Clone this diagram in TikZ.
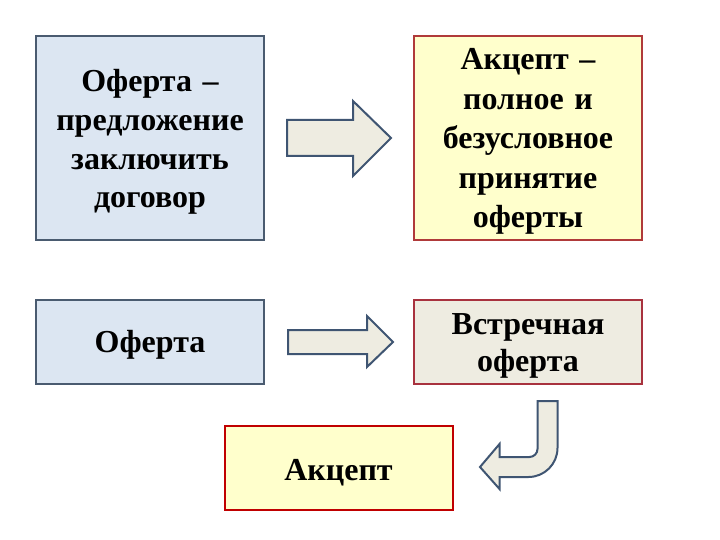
\documentclass[tikz,border=0pt]{standalone}
\usepackage{fontspec}
\setmainfont{Liberation Serif}
\definecolor{bluefill}{HTML}{DCE6F2}
\definecolor{blueline}{HTML}{4A5B70}
\definecolor{yelfill}{HTML}{FFFFCC}
\definecolor{redline}{HTML}{B03A3A}
\definecolor{greyfill}{HTML}{EEECE1}
\definecolor{winered}{HTML}{A8323E}
\definecolor{brightred}{HTML}{C00000}
\definecolor{arrline}{HTML}{3F5572}
\begin{document}
\begin{tikzpicture}[x=1pt,y=-1pt,
  box/.style={draw, line width=2pt, minimum width=228pt, inner sep=0pt},
  txt/.style={inner sep=0pt, text width=226pt, align=center},
  blockarrow/.style={draw=arrline, fill=greyfill, line width=2pt, line join=miter}]
\useasboundingbox (0,0) rectangle (720,540);
\fill[white] (0,0) rectangle (720,540);
\node[box, draw=blueline, fill=bluefill, minimum height=204pt] (b1) at (150,138) {};
\node[txt, font=\bfseries\fontsize{32}{38.7}\selectfont] (t1) at ([yshift=-4pt]b1.center)
  {Оферта –\\предложение\\заключить\\договор};
\node[box, draw=redline, fill=yelfill, minimum height=204pt] (b2) at (528,138) {};
\node[txt, font=\bfseries\fontsize{32}{39.5}\selectfont] (t2) at ([yshift=-3.5pt]b2.center)
  {Акцепт –\\полное и\\безусловное\\принятие\\оферты};
\node[box, draw=blueline, fill=bluefill, minimum height=84pt] (b3) at (150,341.5) {};
\node[txt, font=\bfseries\fontsize{32}{38}\selectfont] (t3) at ([yshift=-3pt]b3.center)
  {Оферта};
\node[box, draw=winered, fill=greyfill, minimum height=84pt] (b4) at (528,341.5) {};
\node[txt, font=\bfseries\fontsize{32}{37}\selectfont] (t4) at ([yshift=-4pt]b4.center)
  {Встречная\\оферта};
\node[box, draw=brightred, fill=yelfill, minimum height=84pt] (b5) at (338.5,467.5) {};
\node[txt, font=\bfseries\fontsize{32}{38}\selectfont] (t5) at ([yshift=-5pt]b5.center)
  {Акцепт};
% arrow 1
\draw[blockarrow] (287,120) -- (353,120) -- (353,101) -- (391,138) -- (353,176)
  -- (353,156) -- (287,156) -- cycle;
% arrow 2
\draw[blockarrow] (288,330) -- (367,330) -- (367,316) -- (393,342) -- (367,367)
  -- (367,354) -- (288,354) -- cycle;
% arrow 3 (U-turn)
\draw[blockarrow] (537.5,401) -- (557.5,401) -- (557.5,448)
  arc[start angle=0, end angle=90, radius=29] -- (499.5,477) -- (499.5,489)
  -- (480,467) -- (499.5,444) -- (499.5,457) -- (529.5,457)
  arc[start angle=90, end angle=0, radius=8] -- cycle;
\end{tikzpicture}
\end{document}
